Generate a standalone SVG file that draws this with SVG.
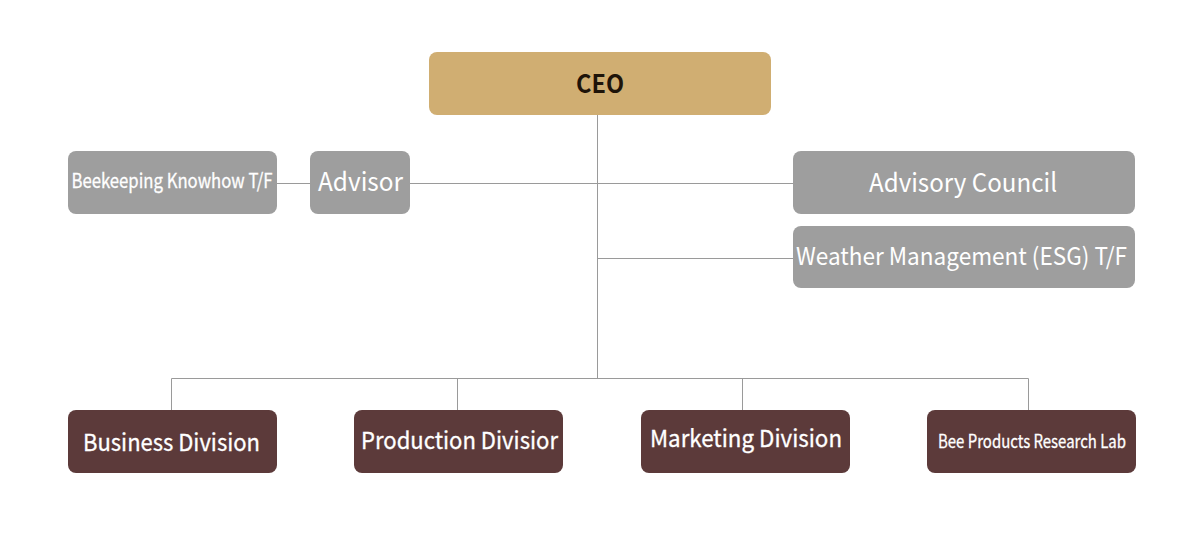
<svg xmlns="http://www.w3.org/2000/svg" width="1200" height="538" viewBox="0 0 1200 538">
<style>
.bg{fill:#ffffff}
.gray{fill:#9e9e9e}
.ceo{fill:#d0ae72}
.div{fill:#5c3a3a}
.t{font-family:"Noto Sans CJK KR","Noto Sans",sans-serif;fill:#ffffff}
.m{font-weight:normal;stroke:#ffffff;stroke-width:0.3}
.tc{font-family:"Noto Sans CJK KR","Noto Sans",sans-serif;fill:#1e1409;font-weight:bold}
.ln{stroke:#9a9a9a;stroke-width:1;fill:none}
</style>
<rect class="bg" x="0" y="0" width="1200" height="538"/>
<g id="connectors">
<path class="ln" d="M597.5 115V378.5"/>
<path class="ln" d="M410 183.5H793"/>
<path class="ln" d="M277 183.5H310"/>
<path class="ln" d="M597.5 258.5H793"/>
<path class="ln" d="M171.5 378.5H1028.5"/>
<path class="ln" d="M171.5 378.5V410M457.5 378.5V410M742.5 378.5V410M1028.5 378.5V410"/>
</g>
<g id="ceo">
<rect class="ceo" x="429" y="52" width="342" height="63" rx="8"/>
<text class="tc" x="576" y="93" font-size="25" textLength="48" lengthAdjust="spacingAndGlyphs">CEO</text>
</g>
<g id="beekeeping">
<rect class="gray" x="68" y="151" width="209" height="63" rx="8"/>
<text class="t m" x="71.5" y="188" font-size="20" textLength="201" lengthAdjust="spacingAndGlyphs">Beekeeping Knowhow T/F</text>
</g>
<g id="advisor">
<rect class="gray" x="310" y="151" width="100" height="63" rx="8"/>
<text class="t" x="318" y="191" font-size="26" textLength="85" lengthAdjust="spacingAndGlyphs">Advisor</text>
</g>
<g id="advisory-council">
<rect class="gray" x="793" y="151" width="342" height="63" rx="8"/>
<text class="t" x="869" y="192" font-size="26" textLength="188" lengthAdjust="spacingAndGlyphs">Advisory Council</text>
</g>
<g id="weather">
<rect class="gray" x="793" y="226" width="342" height="62" rx="8"/>
<text class="t" x="796" y="265" font-size="24" textLength="331" lengthAdjust="spacingAndGlyphs">Weather Management (ESG) T/F</text>
</g>
<g id="business">
<rect class="div" x="68" y="410" width="209" height="63" rx="8"/>
<text class="t m" x="83" y="451" font-size="23.5" textLength="177" lengthAdjust="spacingAndGlyphs">Business Division</text>
</g>
<g id="production">
<rect class="div" x="354" y="410" width="209" height="63" rx="8"/>
<text class="t m" x="361" y="449" font-size="23.5" textLength="197" lengthAdjust="spacingAndGlyphs">Production Divisior</text>
</g>
<g id="marketing">
<rect class="div" x="641" y="410" width="209" height="63" rx="8"/>
<text class="t m" x="650" y="447" font-size="23.5" textLength="192" lengthAdjust="spacingAndGlyphs">Marketing Division</text>
</g>
<g id="research">
<rect class="div" x="927" y="410" width="209" height="63" rx="8"/>
<text class="t m" x="938" y="448" font-size="18" textLength="188" lengthAdjust="spacingAndGlyphs">Bee Products Research Lab</text>
</g>
</svg>
